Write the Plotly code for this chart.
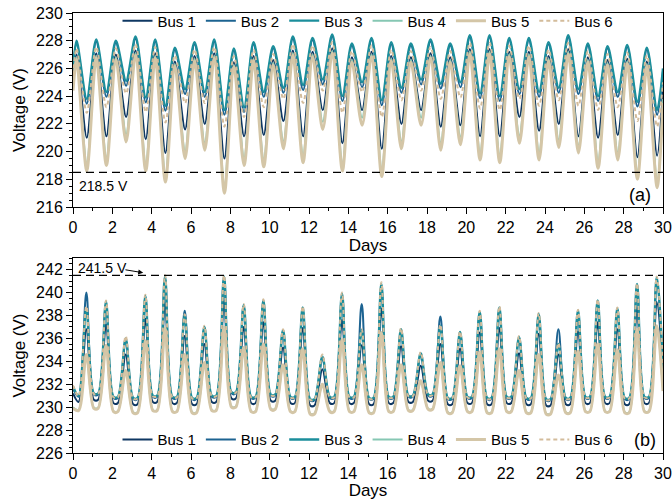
import plotly.graph_objects as go
from plotly.subplots import make_subplots

# ---------------- data ----------------
BUS_NAMES = ["Bus 1", "Bus 2", "Bus 3", "Bus 4", "Bus 5", "Bus 6"]
DAY_TICKS = list(range(0, 31, 2))
THRESH_A = 218.5
THRESH_B = 241.5

# Panel (a): daily peak (morning) and trough (afternoon) voltages, days 0..29
A_B1_PEAK = [227.0, 227.1, 227.0, 227.3, 227.1, 226.5, 226.9, 227.1, 226.45, 226.9, 226.6, 227.3, 227.2, 227.45, 226.8,
             227.2, 226.9, 226.8, 227.1, 226.8, 227.4, 227.4, 227.2, 227.2, 226.9, 227.4, 226.8, 226.6, 226.7, 226.5]
A_B2_PEAK = [227.85, 227.95, 227.85, 228.15, 227.95, 227.35, 227.75, 227.95, 227.3, 227.75, 227.45, 228.15, 228.05, 228.3, 227.65,
             228.05, 227.75, 227.65, 227.95, 227.65, 228.25, 228.25, 228.05, 228.05, 227.75, 228.25, 227.65, 227.45, 227.55, 227.35]
A_B3_PEAK = [228.0, 228.1, 228.0, 228.3, 228.1, 227.5, 227.9, 228.1, 227.45, 227.9, 227.6, 228.3, 228.2, 228.45, 227.8,
             228.2, 227.9, 227.8, 228.1, 227.8, 228.4, 228.4, 228.2, 228.2, 227.9, 228.4, 227.8, 227.6, 227.7, 227.5]
A_B4_PEAK = [226.8, 226.9, 226.8, 227.1, 226.9, 226.3, 226.7, 226.9, 226.25, 226.7, 226.4, 227.1, 227.0, 227.25, 226.6,
             227.0, 226.7, 226.6, 226.9, 226.6, 227.2, 227.2, 227.0, 227.0, 226.7, 227.2, 226.6, 226.4, 226.5, 226.3]
A_B5_PEAK = [226.65, 226.75, 226.65, 226.95, 226.75, 226.15, 226.55, 226.75, 226.1, 226.55, 226.25, 226.95, 226.85, 227.1, 226.45,
             226.85, 226.55, 226.45, 226.75, 226.45, 227.05, 227.05, 226.85, 226.85, 226.55, 227.05, 226.45, 226.25, 226.35, 226.15]
A_B6_PEAK = [227.45, 227.55, 227.45, 227.75, 227.55, 226.95, 227.35, 227.55, 226.9, 227.35, 227.05, 227.75, 227.65, 227.9, 227.25,
             227.65, 227.35, 227.25, 227.55, 227.25, 227.85, 227.85, 227.65, 227.65, 227.35, 227.85, 227.25, 227.05, 227.15, 226.95]

A_B1_TROUGH = [221.0, 221.1, 222.5, 220.9, 219.9, 221.6, 222.0, 219.5, 221.1, 221.2, 222.2, 221.1, 223.0, 220.6, 223.0,
               220.2, 222.0, 223.0, 221.8, 221.9, 221.1, 221.1, 222.5, 221.5, 222.0, 221.1, 221.0, 221.2, 219.6, 219.7]
A_B2_TROUGH = [223.45, 223.95, 224.75, 223.55, 222.95, 224.15, 223.95, 222.65, 222.85, 223.95, 224.25, 224.45, 224.85, 223.65, 224.65,
               223.35, 224.25, 224.85, 224.55, 224.65, 223.85, 223.65, 224.15, 223.95, 224.25, 224.15, 223.65, 223.95, 223.25, 222.65]
A_B3_TROUGH = [223.8, 224.3, 225.1, 223.9, 223.3, 224.5, 224.3, 223.0, 223.2, 224.3, 224.6, 224.8, 225.2, 224.0, 225.0,
               223.7, 224.6, 225.2, 224.9, 225.0, 224.2, 224.0, 224.5, 224.3, 224.6, 224.5, 224.0, 224.3, 223.6, 223.0]
A_B4_TROUGH = [219.15, 219.55, 221.25, 219.15, 218.35, 220.05, 220.65, 217.55, 219.55, 219.45, 220.75, 219.75, 222.15, 219.15, 222.45,
               218.75, 220.75, 222.45, 220.65, 221.05, 219.95, 219.75, 221.15, 219.95, 220.85, 220.45, 219.35, 219.95, 218.55, 217.95]
A_B5_TROUGH = [218.6, 219.0, 220.7, 218.6, 217.8, 219.5, 220.1, 217.0, 219.0, 218.9, 220.2, 219.2, 221.6, 218.6, 221.9,
               218.2, 220.2, 221.9, 220.1, 220.5, 219.4, 219.2, 220.6, 219.4, 220.3, 219.9, 218.8, 219.4, 218.0, 217.4]
A_B6_TROUGH = [222.8, 223.2, 224.2, 222.85, 222.1, 223.5, 223.5, 221.8, 222.5, 223.2, 223.8, 223.5, 224.4, 222.8, 224.3,
               222.5, 223.7, 224.4, 223.8, 223.9, 223.1, 223.0, 223.8, 223.3, 223.7, 223.3, 223.0, 223.2, 222.2, 221.8]

A_START = [225.2, 225.9, 226.0, 224.6, 224.4, 225.5]   # value at day 0, Bus 1..6
A_END = [224.6, 225.8, 226.0, 223.8, 223.5, 225.0]     # value at day 30, Bus 1..6

# Panel (b): daily midday peak and night baseline voltages, days 0..29
B_B1_PEAK = [236.8, 237.2, 234.6, 237.7, 239.1, 236.2, 235.5, 239.3, 237.0, 237.4, 235.2, 236.9, 233.3, 237.6, 235.4,
             238.6, 235.3, 233.6, 235.5, 235.1, 236.5, 236.9, 234.7, 236.4, 234.6, 236.6, 237.4, 236.8, 238.7, 239.2]
B_B2_PEAK = [240.0, 239.0, 235.8, 239.5, 241.2, 238.4, 236.8, 241.2, 238.8, 239.1, 236.5, 238.5, 234.2, 239.7, 239.0,
             240.5, 236.6, 234.5, 237.9, 236.4, 238.1, 238.5, 236.0, 237.9, 236.8, 238.2, 239.1, 238.4, 240.5, 241.1]
B_B3_PEAK = [238.6, 239.2, 236.0, 239.7, 241.4, 238.0, 237.0, 241.4, 238.9, 239.3, 236.7, 238.7, 234.4, 239.9, 236.7,
             240.75, 236.8, 234.7, 237.1, 236.55, 238.3, 238.7, 236.1, 238.1, 235.5, 238.4, 239.3, 238.6, 240.75, 241.3]
B_B4_PEAK = [234.5, 235.3, 233.1, 235.7, 236.8, 234.5, 233.8, 236.9, 235.1, 235.4, 233.6, 235.0, 231.9, 235.8, 233.6,
             236.4, 233.6, 232.2, 233.8, 233.5, 234.7, 235.0, 233.1, 234.5, 232.7, 234.8, 235.4, 234.9, 236.7, 237.0]
B_B5_PEAK = [234.6, 235.4, 233.2, 235.8, 236.9, 234.6, 233.9, 237.0, 235.2, 235.5, 233.7, 235.1, 232.0, 235.9, 233.7,
             236.5, 233.7, 232.3, 233.9, 233.6, 234.8, 235.1, 233.2, 234.6, 232.8, 234.9, 235.5, 235.0, 236.8, 237.1]
B_B6_PEAK = [238.8, 239.3, 236.2, 239.8, 241.5, 238.1, 237.1, 241.5, 239.0, 239.4, 236.8, 238.8, 234.6, 240.0, 236.8,
             240.9, 236.9, 234.8, 237.2, 236.6, 238.4, 238.8, 236.2, 238.2, 235.6, 238.5, 239.4, 238.7, 240.8, 241.4]

B_B1_BASE = [230.45, 230.65, 230.35, 230.25, 230.45, 230.35, 230.25, 230.45, 230.75, 230.35, 230.55, 230.35, 230.15, 230.35, 230.35,
             230.25, 230.35, 230.45, 230.55, 230.25, 230.35, 230.25, 230.35, 230.25, 230.15, 230.25, 230.35, 230.35, 230.25, 230.35]
B_B2_BASE = [230.9, 231.1, 230.8, 230.7, 230.9, 230.8, 230.7, 230.9, 231.2, 230.8, 231.0, 230.8, 230.6, 230.8, 230.8,
             230.7, 230.8, 230.9, 231.0, 230.7, 230.8, 230.7, 230.8, 230.7, 230.6, 230.7, 230.8, 230.8, 230.7, 230.8]
B_B3_BASE = [231.0, 231.2, 230.9, 230.8, 231.0, 230.9, 230.8, 231.0, 231.3, 230.9, 231.1, 230.9, 230.7, 230.9, 230.9,
             230.8, 230.9, 231.0, 231.1, 230.8, 230.9, 230.8, 230.9, 230.8, 230.7, 230.8, 230.9, 230.9, 230.8, 230.9]
B_B4_BASE = [229.75, 229.95, 229.65, 229.55, 229.75, 229.65, 229.55, 229.75, 230.05, 229.65, 229.85, 229.65, 229.45, 229.65, 229.65,
             229.55, 229.65, 229.75, 229.85, 229.55, 229.65, 229.55, 229.65, 229.55, 229.45, 229.55, 229.65, 229.65, 229.55, 229.65]
B_B5_BASE = [229.7, 229.9, 229.6, 229.5, 229.7, 229.6, 229.5, 229.7, 230.0, 229.6, 229.8, 229.6, 229.4, 229.6, 229.6,
             229.5, 229.6, 229.7, 229.8, 229.5, 229.6, 229.5, 229.6, 229.5, 229.4, 229.5, 229.6, 229.6, 229.5, 229.6]
B_B6_BASE = [230.95, 231.15, 230.85, 230.75, 230.95, 230.85, 230.75, 230.95, 231.25, 230.85, 231.05, 230.85, 230.65, 230.85, 230.85,
             230.75, 230.85, 230.95, 231.05, 230.75, 230.85, 230.75, 230.85, 230.75, 230.65, 230.75, 230.85, 230.85, 230.75, 230.85]

B_START = [231.2, 231.6, 231.8, 230.0, 229.9, 231.9]
B_END = [233.0, 233.3, 233.5, 231.5, 231.4, 233.7]

A_PEAKS = [A_B1_PEAK, A_B2_PEAK, A_B3_PEAK, A_B4_PEAK, A_B5_PEAK, A_B6_PEAK]
A_TROUGHS = [A_B1_TROUGH, A_B2_TROUGH, A_B3_TROUGH, A_B4_TROUGH, A_B5_TROUGH, A_B6_TROUGH]
B_PEAKS = [B_B1_PEAK, B_B2_PEAK, B_B3_PEAK, B_B4_PEAK, B_B5_PEAK, B_B6_PEAK]
B_BASES = [B_B1_BASE, B_B2_BASE, B_B3_BASE, B_B4_BASE, B_B5_BASE, B_B6_BASE]

# ---------------- style ----------------
COLORS = ["#0e3762", "#1c6391", "#1b8e9b", "#86c7b3", "#d4c6a7", "#d3bc9b"]
WIDTHS = [2, 2, 2.4, 2, 3, 2]
DASHES = ["solid", "solid", "solid", "solid", "solid", "4px,3px"]
FONT = "Arial, Liberation Sans, sans-serif"


def series_a(i):
    xs, ys = [0.0], [A_START[i]]
    for d in range(30):
        xs += [d + 0.18, d + 0.70]
        ys += [A_PEAKS[i][d], A_TROUGHS[i][d]]
    xs.append(30.0)
    ys.append(A_END[i])
    return xs, ys


def series_b(i):
    xs, ys = [0.0], [B_START[i]]
    for d in range(30):
        if d > 0:
            xs.append(d + 0.06)
            ys.append(B_BASES[i][d])
        xs += [d + 0.28, d + 0.68]
        ys += [B_BASES[i][d], B_PEAKS[i][d]]
    xs.append(30.0)
    ys.append(B_END[i])
    return xs, ys


fig = make_subplots(rows=2, cols=1, vertical_spacing=0.116)

for i, name in enumerate(BUS_NAMES):
    xa, ya = series_a(i)
    fig.add_trace(go.Scatter(x=xa, y=ya, mode="lines", name=name, legend="legend",
                             line=dict(color=COLORS[i], width=WIDTHS[i], dash=DASHES[i],
                                       shape="spline", smoothing=0.8)), row=1, col=1)
for i, name in enumerate(BUS_NAMES):
    xb, yb = series_b(i)
    fig.add_trace(go.Scatter(x=xb, y=yb, mode="lines", name=name, legend="legend2",
                             line=dict(color=COLORS[i], width=WIDTHS[i], dash=DASHES[i],
                                       shape="spline", smoothing=0.9)), row=2, col=1)

axis_common = dict(showline=True, linecolor="black", linewidth=1, mirror=True, automargin=False,
                   ticks="outside", ticklen=6, tickcolor="black", showgrid=False, zeroline=False,
                   tickfont=dict(size=16, color="black", family=FONT))

for r in (1, 2):
    fig.update_xaxes(range=[0, 30], tickvals=DAY_TICKS,
                     minor=dict(dtick=1, ticks="outside", ticklen=3, tickcolor="black"),
                     title=dict(text="Days", font=dict(size=17, color="black", family=FONT), standoff=0),
                     row=r, col=1, **axis_common)
fig.update_yaxes(range=[216, 230], dtick=2, minor=dict(dtick=0.5, ticks="outside", ticklen=3, tickcolor="black"),
                 title=dict(text="Voltage (V)", font=dict(size=17, color="black", family=FONT), standoff=6),
                 row=1, col=1, **axis_common)
fig.update_yaxes(range=[226, 243], tick0=226, dtick=2,
                 minor=dict(dtick=0.5, ticks="outside", ticklen=3, tickcolor="black"),
                 title=dict(text="Voltage (V)", font=dict(size=17, color="black", family=FONT), standoff=6),
                 row=2, col=1, **axis_common)

fig.update_layout(
    width=672, height=500,
    margin=dict(l=73, r=9, t=13, b=47, autoexpand=False),
    plot_bgcolor="white", paper_bgcolor="white",
    font=dict(family=FONT, color="black"),
    legend=dict(orientation="h", x=0.5, xanchor="center", y=0.982, yanchor="middle",
                bgcolor="rgba(0,0,0,0)", font=dict(size=15, family=FONT), tracegroupgap=0),
    legend2=dict(orientation="h", x=0.5, xanchor="center", y=0.03, yanchor="middle",
                 bgcolor="rgba(0,0,0,0)", font=dict(size=15, family=FONT), tracegroupgap=0),
)
fig.update_layout(yaxis=dict(domain=[0.559, 1.0]), yaxis2=dict(domain=[0.0, 0.443]))

fig.add_shape(type="line", xref="x", yref="y", x0=0, x1=30, y0=THRESH_A, y1=THRESH_A,
              line=dict(color="black", width=1.3, dash="8px,5px"))
fig.add_shape(type="line", xref="x2", yref="y2", x0=0, x1=30, y0=THRESH_B, y1=THRESH_B,
              line=dict(color="black", width=1.3, dash="8px,5px"))

fig.add_annotation(xref="x", yref="y", x=0.2, y=217.55, text=f"{THRESH_A} V", showarrow=False,
                   xanchor="left", yanchor="middle", font=dict(size=14, family=FONT))
fig.add_annotation(xref="x", yref="y", x=29.5, y=216.87, text="(a)", showarrow=False,
                   xanchor="right", yanchor="middle", font=dict(size=18, family=FONT))
fig.add_annotation(xref="x2", yref="y2", x=0.15, y=242.15, text=f"{THRESH_B} V", showarrow=False,
                   xanchor="left", yanchor="middle", font=dict(size=14, family=FONT))
fig.add_annotation(xref="x2", yref="y2", x=3.57, y=241.72, ax=2.59, ay=242.0, axref="x2", ayref="y2",
                   text="", showarrow=True, arrowhead=2, arrowsize=1, arrowwidth=1, arrowcolor="black")
fig.add_annotation(xref="x2", yref="y2", x=29.74, y=227.13, text="(b)", showarrow=False,
                   xanchor="right", yanchor="middle", font=dict(size=18, family=FONT))

fig.write_html("out.html", config={"displayModeBar": False},
               post_script="document.body.style.margin='0px';")
